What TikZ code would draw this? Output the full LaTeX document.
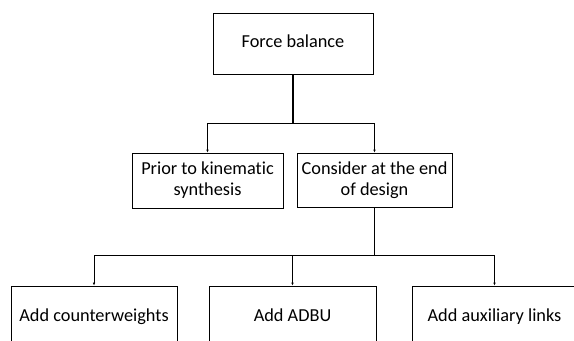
\documentclass[tikz,border=0pt]{standalone}
\usepackage{fontspec}
\setmainfont{Carlito}[Ligatures={NoCommon}]
\usetikzlibrary{arrows.meta}

\tikzset{
  box/.style={draw=black, line width=0.8bp, rectangle, align=center,
    inner sep=0pt, font=\fontsize{18.3bp}{21bp}\selectfont},
  oneline/.style={text height=12.5bp, text depth=4bp},
  branch/.style={draw=black, line width=0.8bp, -{Latex[length=3bp,width=2.6bp]}},
  trunk/.style={draw=black, line width=1.4bp},
  bar/.style={draw=black, line width=0.8bp},
}

\begin{document}
\begin{tikzpicture}[x=1bp, y=-1bp]
  \useasboundingbox (0,0) rectangle (574,340);
  \begin{scope}
    \clip (0,0) rectangle (574,340);

    % root
    \node[box, oneline, minimum width=160bp, minimum height=61bp] (root) at (293,43.5) {Force balance};

    % second level
    \node[box, minimum width=151bp, minimum height=55bp] (prior) at (207.5,180.5)
      {Prior to kinematic\\synthesis};
    \node[box, minimum width=155bp, minimum height=54bp] (endd) at (374.5,180)
      {Consider at the end\\of design};

    % third level (runs past the lower edge)
    \node[box, oneline, minimum width=166bp, minimum height=62bp] (cw) at (94,317) {Add counterweights};
    \node[box, oneline, minimum width=167bp, minimum height=62bp] (adbu) at (292.5,317) {Add ADBU};
    \node[box, oneline, minimum width=165bp, minimum height=62bp] (aux) at (494.5,317) {Add auxiliary links};

    % junctions
    \coordinate (j1) at (293,123);
    \coordinate (j2) at (374.5,255);

    % connectors
    \draw[trunk] (root.south) -- (j1);
    \draw[bar] (j1 -| prior.north) -- (j1 -| endd.north);
    \draw[branch] (j1 -| prior.north) -- (prior.north);
    \draw[branch] (j1 -| endd.north) -- (endd.north);

    \draw[trunk] (endd.south) -- (j2);
    \draw[bar] (j2 -| cw.north) -- (j2 -| aux.north);
    \draw[branch] (j2 -| cw.north) -- (cw.north);
    \draw[branch] (j2 -| adbu.north) -- (adbu.north);
    \draw[branch] (j2 -| aux.north) -- (aux.north);
  \end{scope}
\end{tikzpicture}
\end{document}
